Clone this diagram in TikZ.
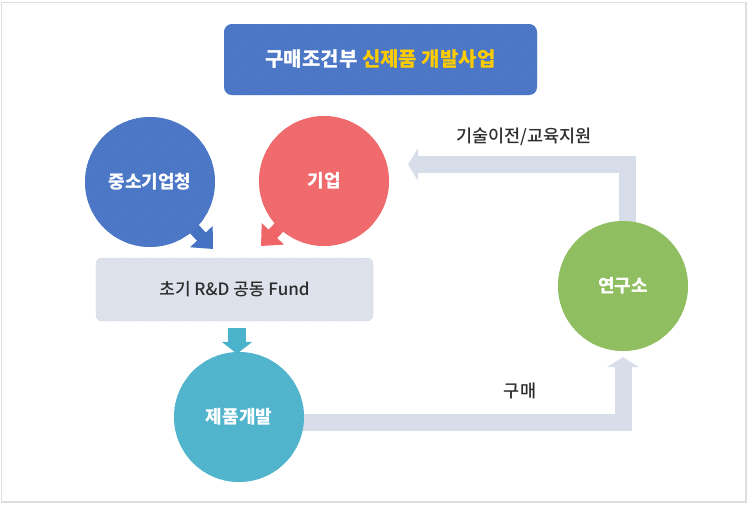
\documentclass[tikz,border=0pt]{standalone}
\usepackage{fontspec}
\setmainfont{Noto Sans CJK KR}
\newfontfamily\midfont{Noto Sans CJK KR Medium}
\usetikzlibrary{arrows.meta,patterns,backgrounds}
\definecolor{smeblue}{RGB}{70,114,196}
\definecolor{firmred}{RGB}{239,101,104}
\definecolor{devteal}{RGB}{75,178,204}
\definecolor{labgreen}{RGB}{139,188,90}
\definecolor{flowgray}{RGB}{216,222,233}
\definecolor{fundfill}{RGB}{220,225,235}
\definecolor{fundline}{RGB}{205,212,228}
\definecolor{framegray}{RGB}{222,222,222}
\definecolor{titleyellow}{RGB}{255,204,0}
\definecolor{textdark}{RGB}{45,45,45}
\tikzset{stripes/.style = {postaction = {pattern = north east lines, pattern color = white!12!#1}}}
\tikzset{bubble/.style = {shape = circle, fill = #1, stripes = #1, minimum size = 130pt, inner sep = 0pt,
  text = white, font = \bfseries\fontsize{18}{20}\selectfont}}
\tikzset{tail/.style = {draw = #1, line width = 12pt, -{Triangle[width = 30pt, length = 17pt]}}}
\tikzset{flow/.style = {draw = flowgray, line width = 17pt, -{Triangle[width = 32pt, length = 10pt]}}}
\tikzset{flowtext/.style = {text = textdark, font = \midfont\fontsize{17.5}{19}\selectfont}}

\begin{document}
\begin{tikzpicture}[x = 1pt, y = -1pt]
  \useasboundingbox (0, 0) rectangle (749, 504);
  \draw[framegray, line width = 1.5pt] (1.5, 2.5) rectangle (746, 502);

  % title
  \node[fill = smeblue, stripes = smeblue, rounded corners = 8pt, minimum width = 313pt, minimum height = 71pt,
    text = white, font = \bfseries\fontsize{20}{22}\selectfont] (title) at (380.5, 59.5)
    {구매조건부 \textcolor{titleyellow}{신제품 개발사업}};

  % circles and box
  \node[bubble = smeblue] (sme) at (150, 182) {중소기업청};
  \node[bubble = firmred] (firm) at (324, 181) {기업};
  \node[fill = fundfill, draw = fundline, stripes = fundfill, rounded corners = 6pt, minimum width = 277pt,
    minimum height = 63pt, text = textdark, font = \midfont\fontsize{17}{19}\selectfont] (fund) at (234.5, 289.5)
    {초기 R\&D 공동 Fund};
  \node[bubble = devteal] (dev) at (239, 417) {제품개발};
  \node[bubble = labgreen] (lab) at (623, 286) {연구소};

  \coordinate (smetip) at (213, 249);
  \coordinate (firmtip) at (261, 246);
  \coordinate (techend) at (408, 164.5);

  \node[flowtext] (tech) at (524, 137) {기술이전/교육지원};
  \node[flowtext] (buy) at (520, 391) {구매};

  \begin{scope}[on background layer]
    \draw[tail = smeblue] (sme.center) -- (smetip);
    \draw[tail = firmred] (firm.center) -- (firmtip);
    \draw[flow] ([yshift = -5pt]dev.center) -| ([yshift = -6pt]lab.south);
    \draw[flow] ([xshift = 4pt]lab.center) |- (techend);
  \end{scope}
  \draw[devteal, line width = 18pt, -{Triangle[width = 30pt, length = 12pt]}]
    ([xshift = -2pt, yshift = -7pt]fund.south -| dev.north) -- ([xshift = -2pt, yshift = -2pt]dev.north);
\end{tikzpicture}
\end{document}
